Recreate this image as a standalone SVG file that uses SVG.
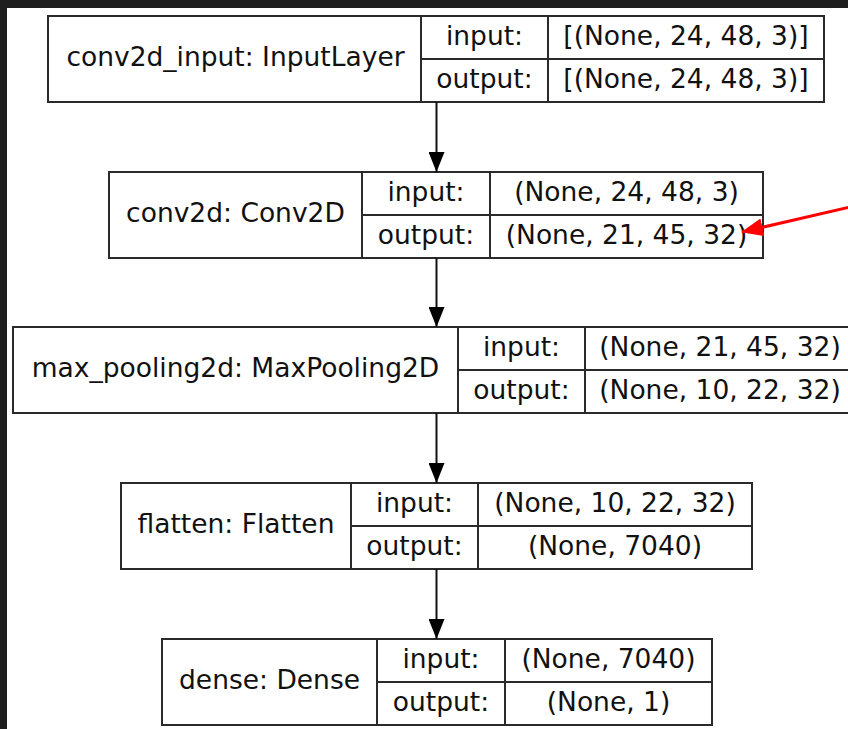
<svg xmlns="http://www.w3.org/2000/svg" width="848" height="729" viewBox="0 0 848 729">
  <style>
    .box { fill: #ffffff; stroke: #2a2a2a; stroke-width: 2; }
    .sep { stroke: #2a2a2a; stroke-width: 2; fill: none; }
    text { font-family: "DejaVu Sans", Verdana, sans-serif; font-size: 26.5px; fill: #111111; text-anchor: middle; }
    .edge { stroke: #111111; stroke-width: 2; fill: none; }
  </style>
  <defs>
    <marker id="head" viewBox="0 0 20 16" refX="20" refY="8" markerWidth="20" markerHeight="16" markerUnits="userSpaceOnUse" orient="auto">
      <path d="M0,0 L20,8 L0,16 Z" fill="#000000"/>
    </marker>
    <marker id="redhead" viewBox="0 0 22 18" refX="21" refY="9" markerWidth="22" markerHeight="18" markerUnits="userSpaceOnUse" orient="auto">
      <path d="M0,0 L22,9 L0,18 Z" fill="#ff0000"/>
    </marker>
  </defs>

  <!-- window frame -->
  <rect x="0" y="0" width="848" height="729" fill="#1e1e1e"/>
  <rect x="7" y="8" width="841" height="721" fill="#ffffff"/>

  <!-- layer nodes -->
  <g id="conv2d_input">
    <rect class="box" x="48" y="16" width="776" height="86"/>
    <path class="sep" d="M421,16 V102 M548,16 V102 M421,59 H824"/>
    <text x="235.5" y="66">conv2d_input: InputLayer</text>
    <text x="484.5" y="44.5">input:</text>
    <text x="484.5" y="87.5">output:</text>
    <text x="686" y="44.5">[(None, 24, 48, 3)]</text>
    <text x="686" y="87.5">[(None, 24, 48, 3)]</text>
  </g>

  <g id="conv2d">
    <rect class="box" x="109" y="172" width="654" height="86"/>
    <path class="sep" d="M362,172 V258 M490,172 V258 M362,215 H763"/>
    <text x="235.5" y="222">conv2d: Conv2D</text>
    <text x="426" y="200.5">input:</text>
    <text x="426" y="243.5">output:</text>
    <text x="626.5" y="200.5">(None, 24, 48, 3)</text>
    <text x="626.5" y="243.5">(None, 21, 45, 32)</text>
  </g>

  <g id="max_pooling2d">
    <rect class="box" x="13" y="327" width="842" height="86"/>
    <path class="sep" d="M458,327 V413 M585,327 V413 M458,370 H855"/>
    <text x="235.5" y="377">max_pooling2d: MaxPooling2D</text>
    <text x="521.5" y="355.5">input:</text>
    <text x="521.5" y="398.5">output:</text>
    <text x="720" y="355.5">(None, 21, 45, 32)</text>
    <text x="720" y="398.5">(None, 10, 22, 32)</text>
  </g>

  <g id="flatten">
    <rect class="box" x="121" y="483" width="631" height="86"/>
    <path class="sep" d="M351,483 V569 M478,483 V569 M351,526 H752"/>
    <text x="236" y="533">flatten: Flatten</text>
    <text x="414.5" y="511.5">input:</text>
    <text x="414.5" y="554.5">output:</text>
    <text x="615" y="511.5">(None, 10, 22, 32)</text>
    <text x="615" y="554.5">(None, 7040)</text>
  </g>

  <g id="dense">
    <rect class="box" x="162" y="639" width="550" height="86"/>
    <path class="sep" d="M377,639 V725 M505,639 V725 M377,682 H712"/>
    <text x="269.5" y="689">dense: Dense</text>
    <text x="441" y="667.5">input:</text>
    <text x="441" y="710.5">output:</text>
    <text x="608.5" y="667.5">(None, 7040)</text>
    <text x="608.5" y="710.5">(None, 1)</text>
  </g>

  <!-- connectors -->
  <g id="edges">
    <line class="edge" x1="436.5" y1="102" x2="436.5" y2="172" marker-end="url(#head)"/>
    <line class="edge" x1="436.5" y1="258" x2="436.5" y2="327" marker-end="url(#head)"/>
    <line class="edge" x1="436.5" y1="413" x2="436.5" y2="483" marker-end="url(#head)"/>
    <line class="edge" x1="436.5" y1="569" x2="436.5" y2="639" marker-end="url(#head)"/>
  </g>

  <!-- callout arrow -->
  <g id="callout">
    <line x1="850" y1="207" x2="742" y2="232" stroke="#ff0000" stroke-width="3" marker-end="url(#redhead)"/>
  </g>
</svg>
